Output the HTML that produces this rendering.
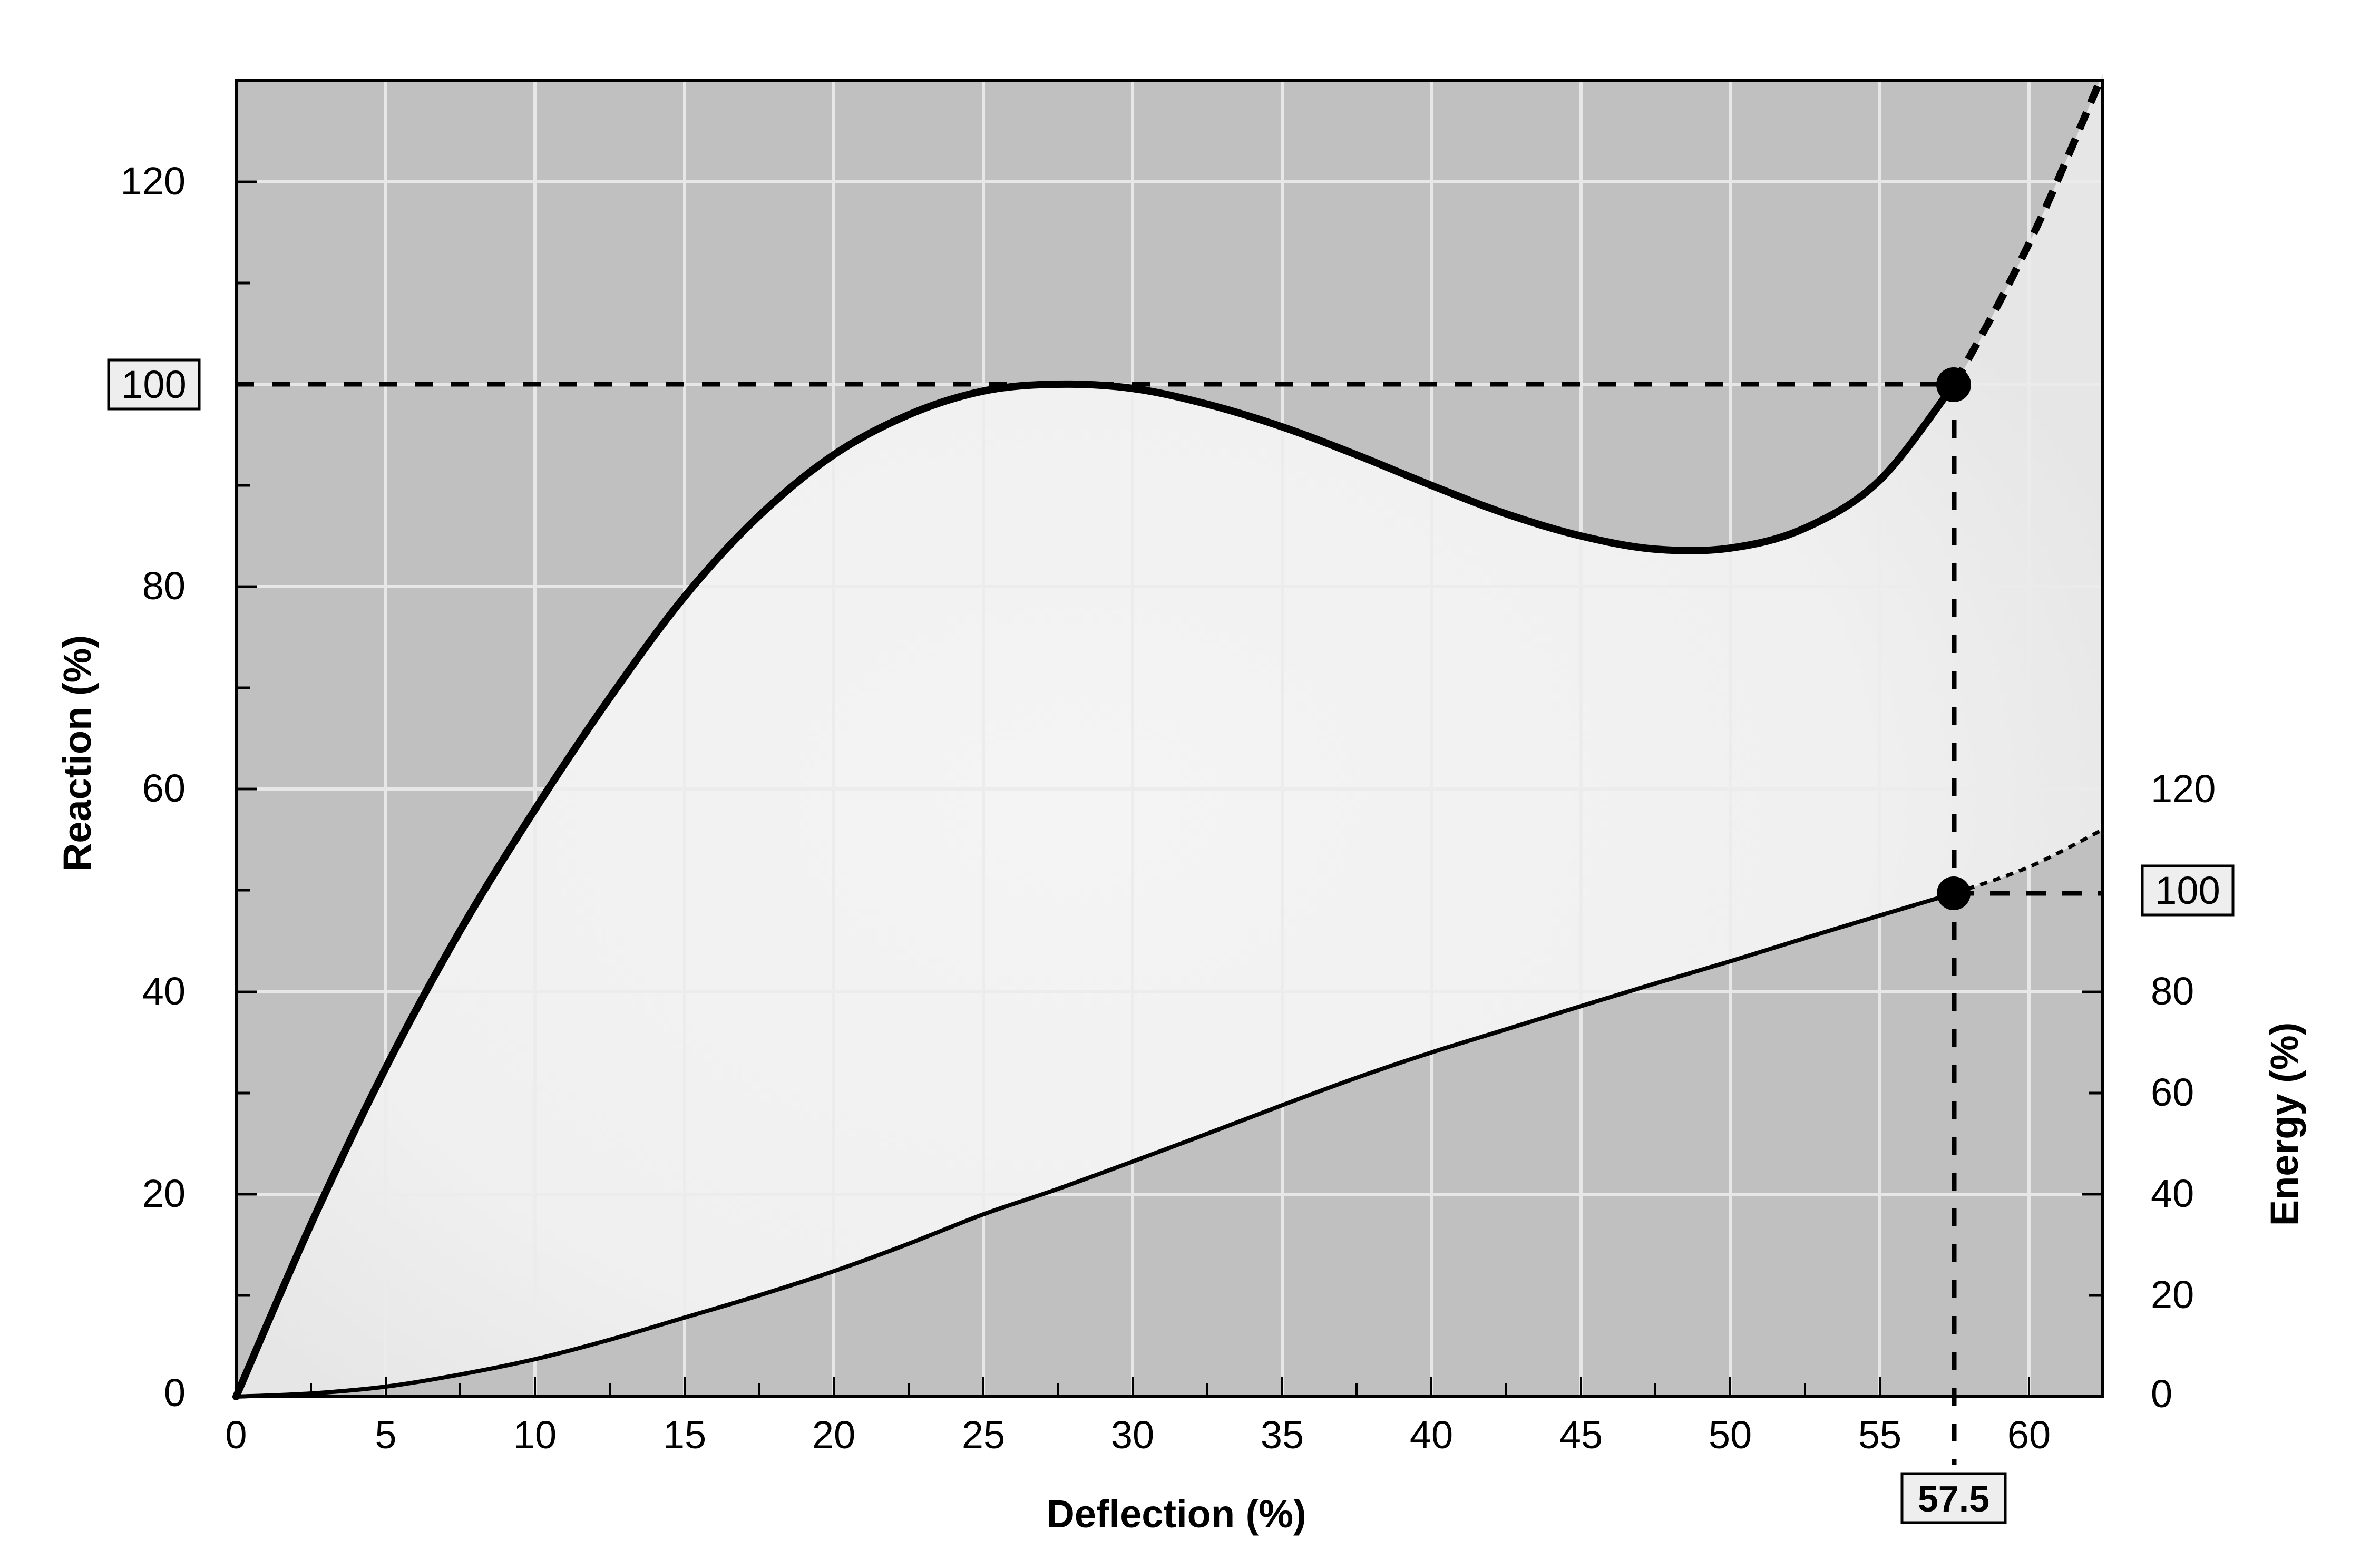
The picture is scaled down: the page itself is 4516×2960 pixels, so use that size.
<!DOCTYPE html>
<html><head><meta charset="utf-8"><style>
html,body{margin:0;padding:0;background:#fff;}
svg{display:block;}
text{font-family:"Liberation Sans",sans-serif;}
</style></head><body>
<svg id="s" width="4516" height="2960" viewBox="0 0 4516 2960" xmlns="http://www.w3.org/2000/svg">
<defs>
<radialGradient id="lg" cx="0.45" cy="0.55" r="0.6">
<stop offset="0" stop-color="#f4f4f4"/><stop offset="0.7" stop-color="#f0f0f0"/><stop offset="1" stop-color="#e6e6e6"/>
</radialGradient>
</defs>
<rect x="448" y="153" width="3542" height="2497" fill="#c0c0c1"/>
<polygon id="fillp" fill="url(#lg)" points="448,2650 590,2323 732,2026 873,1766 1015,1536 1157,1324 1299,1132 1440,979 1582,863 1724,787 1866,742 2007,729 2149,737 2291,767 2433,810 2574,863 2716,921 2858,975 3000,1017 3141,1042 3283,1040 3425,1002 3567,911 3708,729 3793,575 3878,402 3988,140 3990,1574 3850,1641 3708,1695 3567,1737 3425,1780 3283,1824 3141,1866 3000,1909 2858,1953 2716,1997 2574,2045 2433,2097 2291,2151 2149,2204 2007,2256 1866,2304 1724,2360 1582,2412 1440,2458 1299,2500 1157,2542 1015,2579 873,2608 732,2631 590,2644"/>
<path id="fills" fill="url(#lg)" d=""/>
<g stroke="#ececec" stroke-width="6" opacity="0.9">
<line x1="732" y1="153" x2="732" y2="2650"/><line x1="1015" y1="153" x2="1015" y2="2650"/><line x1="1299" y1="153" x2="1299" y2="2650"/><line x1="1582" y1="153" x2="1582" y2="2650"/><line x1="1866" y1="153" x2="1866" y2="2650"/><line x1="2149" y1="153" x2="2149" y2="2650"/><line x1="2433" y1="153" x2="2433" y2="2650"/><line x1="2716" y1="153" x2="2716" y2="2650"/><line x1="3000" y1="153" x2="3000" y2="2650"/><line x1="3283" y1="153" x2="3283" y2="2650"/><line x1="3567" y1="153" x2="3567" y2="2650"/><line x1="3850" y1="153" x2="3850" y2="2650"/>
<line x1="448" y1="2266" x2="3990" y2="2266"/><line x1="448" y1="1882" x2="3990" y2="1882"/><line x1="448" y1="1497" x2="3990" y2="1497"/><line x1="448" y1="1113" x2="3990" y2="1113"/><line x1="448" y1="729" x2="3990" y2="729"/><line x1="448" y1="345" x2="3990" y2="345"/>
</g>
<g stroke="#000" stroke-width="5">
<line x1="448" y1="2266" x2="488" y2="2266"/><line x1="448" y1="1882" x2="488" y2="1882"/><line x1="448" y1="1497" x2="488" y2="1497"/><line x1="448" y1="1113" x2="488" y2="1113"/><line x1="448" y1="345" x2="488" y2="345"/>
<line x1="448" y1="2458" x2="475" y2="2458"/><line x1="448" y1="2074" x2="475" y2="2074"/><line x1="448" y1="1689" x2="475" y2="1689"/><line x1="448" y1="1305" x2="475" y2="1305"/><line x1="448" y1="921" x2="475" y2="921"/><line x1="448" y1="537" x2="475" y2="537"/>
<line x1="3990" y1="2266" x2="3950" y2="2266"/><line x1="3990" y1="1882" x2="3950" y2="1882"/><line x1="3990" y1="2458" x2="3963" y2="2458"/><line x1="3990" y1="2074" x2="3963" y2="2074"/>
</g>
<g stroke="#000" stroke-width="4">
<line x1="590" y1="2650" x2="590" y2="2624"/><line x1="732" y1="2650" x2="732" y2="2613"/><line x1="873" y1="2650" x2="873" y2="2624"/><line x1="1015" y1="2650" x2="1015" y2="2613"/><line x1="1157" y1="2650" x2="1157" y2="2624"/><line x1="1299" y1="2650" x2="1299" y2="2613"/><line x1="1440" y1="2650" x2="1440" y2="2624"/><line x1="1582" y1="2650" x2="1582" y2="2613"/><line x1="1724" y1="2650" x2="1724" y2="2624"/><line x1="1866" y1="2650" x2="1866" y2="2613"/><line x1="2007" y1="2650" x2="2007" y2="2624"/><line x1="2149" y1="2650" x2="2149" y2="2613"/><line x1="2291" y1="2650" x2="2291" y2="2624"/><line x1="2433" y1="2650" x2="2433" y2="2613"/><line x1="2574" y1="2650" x2="2574" y2="2624"/><line x1="2716" y1="2650" x2="2716" y2="2613"/><line x1="2858" y1="2650" x2="2858" y2="2624"/><line x1="3000" y1="2650" x2="3000" y2="2613"/><line x1="3141" y1="2650" x2="3141" y2="2624"/><line x1="3283" y1="2650" x2="3283" y2="2613"/><line x1="3425" y1="2650" x2="3425" y2="2624"/><line x1="3567" y1="2650" x2="3567" y2="2613"/><line x1="3850" y1="2650" x2="3850" y2="2613"/>
</g>
<g stroke="#000" stroke-width="9" stroke-dasharray="34 34" fill="none">
<line x1="448" y1="729" x2="3708" y2="729"/>
<line x1="3708" y1="729" x2="3708" y2="2780"/>
<line x1="3708" y1="1695" x2="3990" y2="1695" stroke-dasharray="38 30"/>
</g>
<polyline class="sm" fill="none" stroke="#000" stroke-width="14" stroke-linejoin="round" stroke-linecap="round" points="448,2650 590,2323 732,2026 873,1766 1015,1536 1157,1324 1299,1132 1440,979 1582,863 1724,787 1866,742 2007,729 2149,737 2291,767 2433,810 2574,863 2716,921 2858,975 3000,1017 3141,1042 3283,1040 3425,1002 3567,911 3708,729"/>
<polyline class="sm" fill="none" stroke="#000" stroke-width="14" stroke-dasharray="34 20" points="3708,729 3793,575 3878,402 3986,150"/>
<polyline class="sm" fill="none" stroke="#000" stroke-width="8" stroke-linejoin="round" points="448,2650 590,2644 732,2631 873,2608 1015,2579 1157,2542 1299,2500 1440,2458 1582,2412 1724,2360 1866,2304 2007,2256 2149,2204 2291,2151 2433,2097 2574,2045 2716,1997 2858,1953 3000,1909 3141,1866 3283,1824 3425,1780 3567,1737 3708,1695"/>
<polyline class="sm" fill="none" stroke="#000" stroke-width="7" stroke-dasharray="14 12" points="3708,1695 3850,1645 3990,1574"/>
<circle cx="3707" cy="730" r="33" fill="#000"/>
<circle cx="3707" cy="1695" r="32" fill="#000"/>
<rect x="448" y="153" width="3542" height="2497" fill="none" stroke="#000" stroke-width="6"/>
<g font-size="74" text-anchor="end" fill="#000">
<text x="352" y="369">120</text>
<text x="352" y="1137">80</text>
<text x="352" y="1521">60</text>
<text x="352" y="1906">40</text>
<text x="352" y="2290">20</text>
<text x="352" y="2668">0</text>
</g>
<rect x="206" y="683" width="172" height="93" fill="#eeeeee" stroke="#000" stroke-width="5"/>
<text x="292" y="755" font-size="74" text-anchor="middle">100</text>
<g font-size="74" fill="#000">
<text x="4081" y="1522">120</text>
<text x="4081" y="1906">80</text>
<text x="4081" y="2098">60</text>
<text x="4081" y="2290">40</text>
<text x="4081" y="2482">20</text>
<text x="4081" y="2670">0</text>
</g>
<rect x="4065" y="1643" width="172" height="93" fill="#eeeeee" stroke="#000" stroke-width="5"/>
<text x="4151" y="1715" font-size="74" text-anchor="middle">100</text>
<g font-size="74" text-anchor="middle" fill="#000">
<text x="448" y="2748">0</text><text x="732" y="2748">5</text><text x="1015" y="2748">10</text><text x="1299" y="2748">15</text><text x="1582" y="2748">20</text><text x="1866" y="2748">25</text><text x="2149" y="2748">30</text><text x="2433" y="2748">35</text><text x="2716" y="2748">40</text><text x="3000" y="2748">45</text><text x="3283" y="2748">50</text><text x="3567" y="2748">55</text><text x="3850" y="2748">60</text>
</g>
<rect x="3609" y="2796" width="196" height="93" fill="#eeeeee" stroke="#000" stroke-width="5"/>
<text x="3707" y="2868" font-size="70" font-weight="bold" text-anchor="middle">57.5</text>
<text x="2232" y="2898" font-size="74" font-weight="bold" text-anchor="middle">Deflection (%)</text>
<text transform="translate(172,1429) rotate(-90)" font-size="74" font-weight="bold" text-anchor="middle">Reaction (%)</text>
<text transform="translate(4360,2133) rotate(-90)" font-size="74" font-weight="bold" text-anchor="middle">Energy (%)</text>
</svg>
<script>
(function(){
function pts(s){return s.trim().split(/\s+/).map(function(p){var a=p.split(',');return [+a[0],+a[1]];});}
function cr(P){var d='M'+P[0][0]+','+P[0][1];for(var i=0;i<P.length-1;i++){var p0=P[i-1]||P[i],p1=P[i],p2=P[i+1],p3=P[i+2]||p2;
var c1=[p1[0]+(p2[0]-p0[0])/6,p1[1]+(p2[1]-p0[1])/6],c2=[p2[0]-(p3[0]-p1[0])/6,p2[1]-(p3[1]-p1[1])/6];
d+=' C'+c1[0].toFixed(1)+','+c1[1].toFixed(1)+' '+c2[0].toFixed(1)+','+c2[1].toFixed(1)+' '+p2[0]+','+p2[1];}return d;}
var ns='http://www.w3.org/2000/svg';
var ls=document.querySelectorAll('polyline.sm');
for(var i=0;i<ls.length;i++){var pl=ls[i];var p=document.createElementNS(ns,'path');
['fill','stroke','stroke-width','stroke-dasharray','stroke-linejoin','stroke-linecap'].forEach(function(a){if(pl.getAttribute(a))p.setAttribute(a,pl.getAttribute(a));});
p.setAttribute('d',cr(pts(pl.getAttribute('points'))));pl.parentNode.replaceChild(p,pl);}
var up=pts(ls[0].getAttribute('points')).concat(pts(ls[1].getAttribute('points')).slice(1));
var lo=pts(ls[2].getAttribute('points')).concat(pts(ls[3].getAttribute('points')).slice(1)).reverse();
var d=cr(up)+' L3990,140 L3990,1574 '+cr(lo).replace(/^M/,'L')+' Z';
document.getElementById('fills').setAttribute('d',d);
document.getElementById('fillp').setAttribute('fill','none');
})();
</script>
</body></html>
